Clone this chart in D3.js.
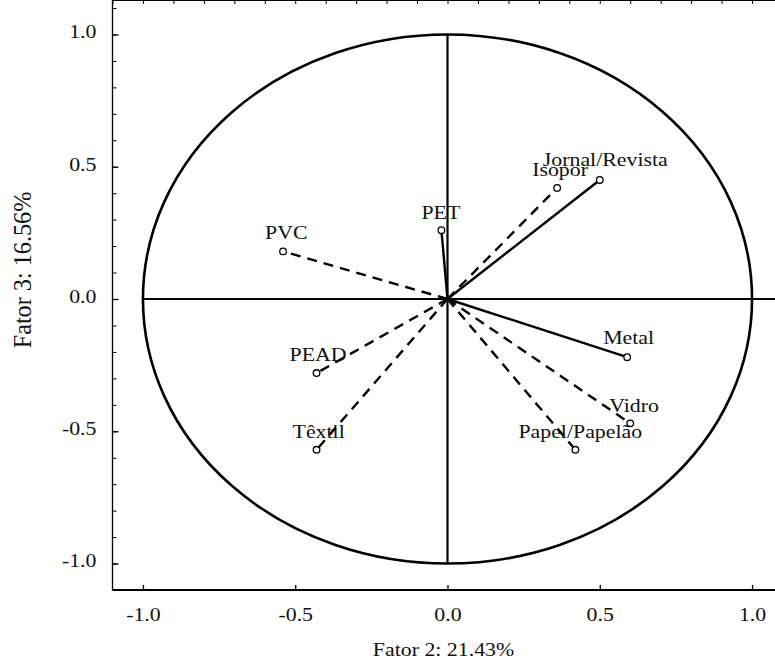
<!DOCTYPE html>
<html>
<head>
<meta charset="utf-8">
<script src="https://cdnjs.cloudflare.com/ajax/libs/d3/7.8.5/d3.min.js"></script>
<style>
  body { margin: 0; background: #fff; }
  text { font-family: "Liberation Serif", "Times New Roman", serif; fill: #111; }
</style>
</head>
<body>
<div id="chart"></div>
<script>
// Loadings
var variables = ["PET", "Isopor", "Jornal/Revista", "PVC", "PEAD", "Têxtil", "Metal", "Vidro", "Papel/Papelão"];
var fator2 = [-0.02, 0.36, 0.50, -0.54, -0.43, -0.43, 0.59, 0.60, 0.42];
var fator3 = [0.26, 0.42, 0.45, 0.18, -0.28, -0.57, -0.22, -0.47, -0.57];

// Tick labels
var majorTicks = [-1.0, -0.5, 0.0, 0.5, 1.0];
var minorTicks = d3.range(-11, 12).map(d => d / 10);

// Axis titles
var xTitle = "Fator 2: 21.43%";
var yTitle = "Fator 3: 16.56%";

// Setting parameters for SVG
var svgWidth = 775;
var svgHeight = 662;

// text in the picture is a little wider than it is tall
var stretch = 1.15;

// vectors drawn with a full line, the rest are dashed
var solidVectors = ["PET", "Jornal/Revista", "Metal"];

// label offsets from the point (left edge, baseline)
var labelOffset = {
  "PET": [-20, -11],
  "Isopor": [-25, -12],
  "Jornal/Revista": [-57, -14],
  "PVC": [-18, -12],
  "PEAD": [-27, -12],
  "Têxtil": [-24, -12],
  "Metal": [-24, -13],
  "Vidro": [-21, -11],
  "Papel/Papelão": [-57, -12]
};

var points = variables.map((v, i) => ({ name: v, x: fator2[i], y: fator3[i] }));

var svg = d3.select("#chart")
  .append("svg")
  .attr("width", svgWidth)
  .attr("height", svgHeight);

// Scales
var x = d3.scaleLinear().domain([-1.1, 1.1]).range([112.5, 782.5]);
var y = d3.scaleLinear().domain([-1.1, 1.1]).range([590, 8]);

var left = x(-1.1), right = x(1.1), top = y(1.1), bottom = y(-1.1);

// Minor ticks on left, top and right
svg.append("g")
  .attr("transform", `translate(${left},0)`)
  .call(d3.axisLeft(y).tickValues(minorTicks).tickSize(-4).tickSizeOuter(0).tickFormat(""))
  .call(g => g.select(".domain").remove());

svg.append("g")
  .attr("transform", `translate(0,${top})`)
  .call(d3.axisTop(x).tickValues(minorTicks).tickSize(-4).tickSizeOuter(0).tickFormat(""))
  .call(g => g.select(".domain").remove());

svg.append("g")
  .attr("transform", `translate(${right},0)`)
  .call(d3.axisRight(y).tickValues(minorTicks).tickSize(-4).tickSizeOuter(0).tickFormat(""))
  .call(g => g.select(".domain").remove());

// Major ticks with labels
var yAxis = svg.append("g")
  .attr("transform", `translate(${left},0)`)
  .call(d3.axisLeft(y).tickValues(majorTicks).tickSize(-6).tickSizeOuter(0).tickFormat(d3.format(".1f")));
yAxis.select(".domain").remove();
yAxis.selectAll("line").attr("stroke-width", 1.3);
yAxis.selectAll("text")
  .attr("font-size", 19)
  .attr("x", -16 / stretch)
  .attr("dy", "0.18em")
  .attr("transform", `scale(${stretch},1)`)
  .text(d => d3.format(".1f")(d).replace("−", "-"));

var xAxis = svg.append("g")
  .attr("transform", `translate(0,${bottom})`)
  .call(d3.axisBottom(x).tickValues(majorTicks).tickSize(-5).tickSizeOuter(0));
xAxis.select(".domain").remove();
xAxis.selectAll("line").attr("stroke-width", 1.3);
xAxis.selectAll("text")
  .attr("font-size", 19)
  .attr("y", 31)
  .attr("dy", 0)
  .attr("transform", `scale(${stretch},1)`)
  .text(d => d3.format(".1f")(d).replace("−", "-"));

// Frame
var frame = svg.append("g").attr("stroke", "#000").attr("fill", "none");
frame.append("line").attr("x1", left).attr("x2", right).attr("y1", top).attr("y2", top).attr("stroke-width", 2.2);
frame.append("line").attr("x1", left).attr("x2", right).attr("y1", bottom).attr("y2", bottom).attr("stroke-width", 2.2);
frame.append("line").attr("x1", left).attr("x2", left).attr("y1", top).attr("y2", bottom).attr("stroke-width", 1.3);
frame.append("line").attr("x1", right).attr("x2", right).attr("y1", top).attr("y2", bottom).attr("stroke-width", 2.2);

// Cross through the origin
svg.append("line")
  .attr("x1", x(-1)).attr("x2", x(1.1))
  .attr("y1", y(0)).attr("y2", y(0))
  .attr("stroke", "#000").attr("stroke-width", 2.2);
svg.append("line")
  .attr("x1", x(0)).attr("x2", x(0))
  .attr("y1", y(1)).attr("y2", y(-1))
  .attr("stroke", "#000").attr("stroke-width", 2.2);

// Unit circle (stretched by the scales)
svg.append("ellipse")
  .attr("cx", x(0)).attr("cy", y(0))
  .attr("rx", x(1) - x(0)).attr("ry", y(0) - y(1))
  .attr("fill", "none")
  .attr("stroke", "#000")
  .attr("stroke-width", 2.6);

// Loading vectors
svg.append("g")
  .selectAll("line")
  .data(points)
  .enter()
  .append("line")
  .attr("x1", x(0)).attr("y1", y(0))
  .attr("x2", d => x(d.x)).attr("y2", d => y(d.y))
  .attr("stroke", "#000")
  .attr("stroke-width", 2.4)
  .attr("stroke-dasharray", d => solidVectors.includes(d.name) ? null : "10,7");

// Point markers
svg.append("g")
  .selectAll("circle")
  .data(points)
  .enter()
  .append("circle")
  .attr("cx", d => x(d.x)).attr("cy", d => y(d.y))
  .attr("r", 3.3)
  .attr("fill", "#fff")
  .attr("stroke", "#000")
  .attr("stroke-width", 1.3);

// Point labels
svg.append("g")
  .selectAll("text")
  .data(points)
  .enter()
  .append("text")
  .attr("font-size", 19)
  .attr("transform", d => `translate(${x(d.x) + labelOffset[d.name][0]},${y(d.y) + labelOffset[d.name][1]}) scale(${stretch},1)`)
  .text(d => d.name);

// Axis titles
svg.append("text")
  .attr("font-size", 19)
  .attr("text-anchor", "middle")
  .attr("transform", `translate(${(x(0) - 4)},656) scale(${stretch},1)`)
  .text(xTitle);

svg.append("text")
  .attr("font-size", 22)
  .attr("text-anchor", "middle")
  .attr("transform", `translate(31,270) rotate(-90) scale(1.1,${stretch})`)
  .text(yTitle);
</script>
</body>
</html>
